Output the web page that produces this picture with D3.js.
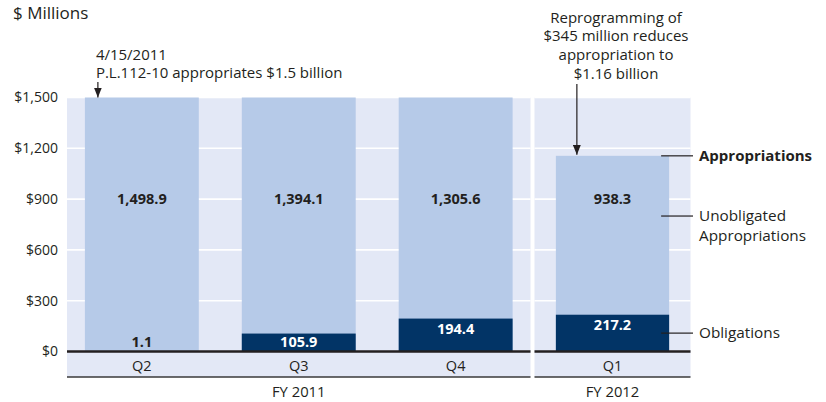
<!DOCTYPE html>
<html>
<head>
<meta charset="utf-8">
<script src="https://cdn.jsdelivr.net/npm/d3@7/dist/d3.min.js"></script>
<style>
  html, body { margin: 0; padding: 0; background: #ffffff; }
  svg { display: block; font-family: "Open Sans", "Noto Sans", sans-serif; }
</style>
</head>
<body>
<svg id="chart" width="826" height="402"></svg>
<script>
// Quarterly appropriations vs. obligations ($ millions)
const quarters     = ["Q2", "Q3", "Q4", "Q1"];
const fiscalYears  = ["FY 2011", "FY 2011", "FY 2011", "FY 2012"];
const obligations  = [1.1, 105.9, 194.4, 217.2];
const unobligated  = [1498.9, 1394.1, 1305.6, 938.3];
const yTicks       = [0, 300, 600, 900, 1200, 1500];
const valueFormat  = d3.format(",.1f");

const C = {
  panel: "#e3e8f6",
  grid: "#ffffff",
  light: "#b6cae8",
  dark: "#023466",
  ink: "#231f20"
};

const svg = d3.select("#chart");

const y = d3.scaleLinear().domain([0, 1500]).range([351.5, 97.5]);
const stripBottom = 377;

const rows = quarters.map((q, i) => ({
  q, fy: fiscalYears[i], obl: obligations[i], unobl: unobligated[i],
  total: obligations[i] + unobligated[i]
}));

// one panel per fiscal year
const panels = [
  { fy: "FY 2011", x0: 67,    x1: 530.5, po: 0.114 },
  { fy: "FY 2012", x0: 534.5, x1: 690.5, po: 0.134 }
];
panels.forEach(p => {
  p.rows = rows.filter(r => r.fy === p.fy);
  p.x = d3.scaleBand().domain(p.rows.map(r => r.q))
    .range([p.x0, p.x1]).paddingInner(0.274).paddingOuter(p.po);
});

// arrowhead for annotation leaders
svg.append("defs").append("marker")
  .attr("id", "arrow").attr("viewBox", "0 0 10 8")
  .attr("refX", 10).attr("refY", 4)
  .attr("markerWidth", 10).attr("markerHeight", 8)
  .attr("markerUnits", "userSpaceOnUse").attr("orient", "auto")
  .append("path").attr("d", "M0,0 L10,4 L0,8 Z").attr("fill", C.ink);

// multi-line label helper: one text element, one tspan per line
function multiline(sel, lines, x, lineHeight) {
  sel.selectAll("tspan").data(lines).join("tspan")
    .attr("x", x).attr("dy", (d, i) => i === 0 ? 0 : lineHeight)
    .text(d => d);
  return sel;
}

panels.forEach(p => {
  const g = svg.append("g");
  g.append("rect")
    .attr("x", p.x0).attr("y", y(1500))
    .attr("width", p.x1 - p.x0).attr("height", stripBottom - y(1500))
    .attr("fill", C.panel);

  g.selectAll("line.grid").data(yTicks.filter(t => t > 0)).join("line")
    .attr("class", "grid")
    .attr("x1", p.x0).attr("x2", p.x1)
    .attr("y1", d => y(d)).attr("y2", d => y(d))
    .attr("stroke", C.grid).attr("stroke-width", 1.6);

  // appropriations = obligations + unobligated
  g.selectAll("rect.appr").data(p.rows).join("rect")
    .attr("class", "appr")
    .attr("x", d => p.x(d.q)).attr("width", p.x.bandwidth())
    .attr("y", d => y(d.total)).attr("height", d => y(0) - y(d.total))
    .attr("fill", C.light);

  g.selectAll("rect.obl").data(p.rows).join("rect")
    .attr("class", "obl")
    .attr("x", d => p.x(d.q)).attr("width", p.x.bandwidth())
    .attr("y", d => y(d.obl)).attr("height", d => y(0) - y(d.obl))
    .attr("fill", C.dark);

  g.selectAll("text.unobl").data(p.rows).join("text")
    .attr("class", "unobl")
    .attr("x", d => p.x(d.q) + p.x.bandwidth() / 2)
    .attr("y", y(900)).attr("dy", "0.35em")
    .attr("text-anchor", "middle")
    .attr("font-size", 14.5).attr("font-weight", 700).attr("fill", C.ink)
    .text(d => valueFormat(d.unobl));

  g.selectAll("text.obl").data(p.rows).join("text")
    .attr("class", "obl")
    .attr("x", d => p.x(d.q) + p.x.bandwidth() / 2)
    .attr("y", d => Math.min(y(d.obl) + 10.5, y(0) - 9.5)).attr("dy", "0.35em")
    .attr("text-anchor", "middle")
    .attr("font-size", 14.5).attr("font-weight", 700)
    .attr("fill", d => (y(0) - y(d.obl)) > 16 ? "#ffffff" : C.ink)
    .text(d => valueFormat(d.obl));

  // zero baseline
  g.append("line")
    .attr("x1", p.x0).attr("x2", p.x1)
    .attr("y1", y(0)).attr("y2", y(0))
    .attr("stroke", C.ink).attr("stroke-width", 2.6);

  // quarter strip
  g.append("line")
    .attr("x1", p.x0).attr("x2", p.x1)
    .attr("y1", stripBottom).attr("y2", stripBottom)
    .attr("stroke", "#3a3a3a").attr("stroke-width", 1.4);

  g.selectAll("text.q").data(p.rows).join("text")
    .attr("class", "q")
    .attr("x", d => p.x(d.q) + p.x.bandwidth() / 2)
    .attr("y", 366).attr("dy", "0.35em")
    .attr("text-anchor", "middle").attr("font-size", 14.5).attr("fill", C.ink)
    .text(d => d.q);

  g.append("text")
    .attr("x", (p.x(p.rows[0].q) + p.x(p.rows[p.rows.length - 1].q) + p.x.bandwidth()) / 2)
    .attr("y", 392).attr("dy", "0.35em")
    .attr("text-anchor", "middle").attr("font-size", 14.8).attr("fill", C.ink)
    .text(p.fy);
});

// y axis labels
const yAxis = d3.axisLeft(y).tickValues(yTicks).tickSize(0).tickPadding(9)
  .tickFormat(d => "$" + d3.format(",")(d));
svg.append("g").attr("transform", "translate(67,0)").call(yAxis)
  .call(g => g.select(".domain").remove())
  .selectAll("text")
  .attr("font-family", "'Open Sans', 'Noto Sans', sans-serif")
  .attr("font-size", 14).attr("fill", C.ink);

svg.append("text").attr("x", 13).attr("y", 19)
  .attr("font-size", 17).attr("fill", C.ink).text("$ Millions");

// annotation: initial appropriation
const p1 = panels[0];
const q2x = p1.x("Q2") + 13;
svg.append("text").attr("y", 59.8)
  .attr("font-size", 15).attr("fill", C.ink)
  .call(multiline, ["4/15/2011", "P.L.112-10 appropriates $1.5 billion"], q2x - 2, 18.2);
svg.append("line").attr("x1", q2x).attr("x2", q2x)
  .attr("y1", 82).attr("y2", y(rows[0].total))
  .attr("stroke", C.ink).attr("stroke-width", 1.2)
  .attr("marker-end", "url(#arrow)");

// annotation: reprogramming
const p2 = panels[1];
const q1 = rows[3];
const q1x = p2.x("Q1") + 21;
svg.append("text").attr("y", 22.5)
  .attr("text-anchor", "middle").attr("font-size", 15).attr("fill", C.ink)
  .call(multiline, ["Reprogramming of", "$345 million reduces", "appropriation to", "$1.16 billion"], 616, 18.8);
svg.append("line").attr("x1", q1x).attr("x2", q1x)
  .attr("y1", 84).attr("y2", y(q1.total) - 1)
  .attr("stroke", C.ink).attr("stroke-width", 1.2)
  .attr("marker-end", "url(#arrow)");

// series key with leader lines
const keyX0 = p2.x("Q1") + p2.x.bandwidth() - 8;
const keyX1 = 693;
const keyItems = [
  { y: y(q1.total), lines: ["Appropriations"], bold: true },
  { y: y(800), lines: ["Unobligated", "Appropriations"], bold: false },
  { y: y(q1.obl / 2), lines: ["Obligations"], bold: false }
];
keyItems.forEach(k => {
  svg.append("line").attr("x1", keyX0).attr("x2", keyX1)
    .attr("y1", k.y).attr("y2", k.y)
    .attr("stroke", C.ink).attr("stroke-width", 1.2);
  svg.append("text").attr("y", k.y + 5.3)
    .attr("font-size", k.bold ? 15 : 15.3).attr("font-weight", k.bold ? 700 : 400)
    .attr("fill", C.ink)
    .call(multiline, k.lines, keyX1 + 6, 19.5);
});
</script>
</body>
</html>
